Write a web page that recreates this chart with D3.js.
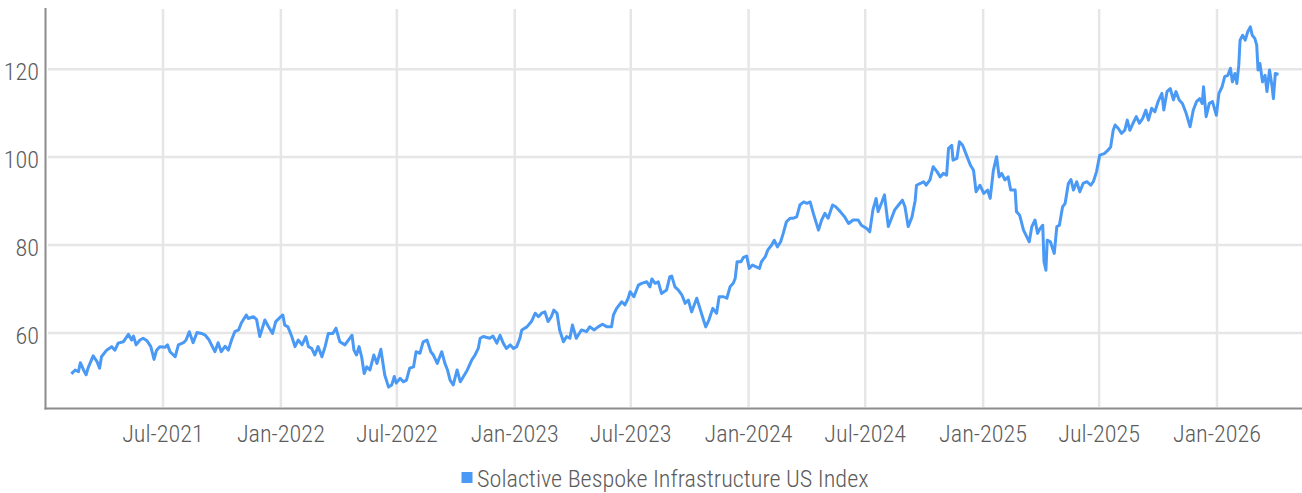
<!DOCTYPE html>
<html><head><meta charset="utf-8">
<script src="https://cdn.jsdelivr.net/npm/d3@7"></script>
<style>
html,body{margin:0;padding:0;background:#fff;}
svg{display:block;}
text{font-family:"Roboto Condensed","Liberation Sans Narrow","DejaVu Sans Condensed",sans-serif;font-weight:300;}
</style></head><body>
<svg id="chart" width="1302" height="493"></svg>
<script>
const seriesName = "Solactive Bespoke Infrastructure US Index";
const xTickDates = ["2021-07-01","2022-01-01","2022-07-01","2023-01-01","2023-07-01","2024-01-01","2024-07-01","2025-01-01","2025-07-01","2026-01-01"];
const xTickLabels = ["Jul-2021","Jan-2022","Jul-2022","Jan-2023","Jul-2023","Jan-2024","Jul-2024","Jan-2025","Jul-2025","Jan-2026"];
const yTicks = [60, 80, 100, 120];

const dates2021 = ["2021-02-08","2021-02-14","2021-02-19","2021-02-22","2021-02-27","2021-03-03","2021-03-06","2021-03-14","2021-03-20","2021-03-24","2021-03-27","2021-04-04","2021-04-12","2021-04-17","2021-04-22","2021-04-30","2021-05-08","2021-05-13","2021-05-16","2021-05-20","2021-05-26","2021-05-31","2021-06-06","2021-06-12","2021-06-17","2021-06-21","2021-06-26","2021-07-04","2021-07-08","2021-07-12","2021-07-20","2021-07-25","2021-08-02","2021-08-06","2021-08-11","2021-08-17","2021-08-23","2021-08-30","2021-09-05","2021-09-11","2021-09-20","2021-09-25","2021-09-30","2021-10-06","2021-10-11","2021-10-16","2021-10-21","2021-10-27","2021-10-31","2021-11-08","2021-11-11","2021-11-19","2021-11-24","2021-11-29","2021-12-07","2021-12-12","2021-12-19","2021-12-24","2021-12-31"];
const values2021 = [50.7,51.6,51.2,53.25,51.6,50.5,52,54.8,53.5,52,54.6,56.1,56.9,56.1,57.7,58,59.7,58.4,59.3,57.3,58.4,58.8,58.25,56.9,54,56.1,56.9,56.75,57.3,55.75,54.6,57.3,57.8,58.4,60.3,57.8,60.1,59.9,59.5,58.4,55.75,57.8,55.75,57,56.1,58.4,60.3,60.7,62.2,64.1,63.3,63.7,63.1,59.2,62.95,61.6,59.9,62.6,63.6];

const dates2022 = ["2022-01-04","2022-01-07","2022-01-12","2022-01-18","2022-01-23","2022-01-28","2022-02-03","2022-02-09","2022-02-13","2022-02-18","2022-02-23","2022-02-28","2022-03-06","2022-03-11","2022-03-16","2022-03-23","2022-03-28","2022-04-03","2022-04-11","2022-04-22","2022-04-25","2022-04-29","2022-05-03","2022-05-07","2022-05-11","2022-05-15","2022-05-20","2022-05-26","2022-05-31","2022-06-06","2022-06-12","2022-06-18","2022-06-23","2022-06-27","2022-06-30","2022-07-06","2022-07-11","2022-07-16","2022-07-21","2022-07-27","2022-07-31","2022-08-06","2022-08-11","2022-08-17","2022-08-23","2022-08-27","2022-09-02","2022-09-09","2022-09-14","2022-09-18","2022-09-22","2022-09-27","2022-10-03","2022-10-08","2022-10-13","2022-10-19","2022-10-26","2022-10-31","2022-11-05","2022-11-08","2022-11-13","2022-11-23","2022-11-28","2022-12-04","2022-12-09","2022-12-14","2022-12-19","2022-12-25","2022-12-30"];
const values2022 = [64.1,61.8,61.4,59.2,56.9,58.4,57.3,59.2,56.9,56.5,55,56.9,54.6,56.9,59.9,59.9,61.1,58,57.3,59.5,56.1,55,56.9,54.6,50.8,52.3,51.6,55,53.1,56.3,50.5,47.7,48.2,50.1,48.6,49.7,48.9,49.3,52,52.3,55.75,55.4,58,58.4,55.75,55,53.1,55.75,53.1,51.6,49.3,48.2,51.6,48.9,50.1,51.6,53.9,55,56.5,58.8,59.2,58.8,59.3,57.7,59.5,57.7,56.5,57.3,56.5];

const dates2023 = ["2023-01-04","2023-01-09","2023-01-12","2023-01-20","2023-01-27","2023-02-02","2023-02-07","2023-02-12","2023-02-17","2023-02-22","2023-02-27","2023-03-03","2023-03-08","2023-03-12","2023-03-18","2023-03-23","2023-03-28","2023-04-01","2023-04-07","2023-04-15","2023-04-23","2023-04-28","2023-05-05","2023-05-11","2023-05-18","2023-05-25","2023-06-01","2023-06-04","2023-06-09","2023-06-17","2023-06-22","2023-06-27","2023-06-30","2023-07-06","2023-07-13","2023-07-18","2023-07-26","2023-07-31","2023-08-03","2023-08-08","2023-08-13","2023-08-18","2023-08-26","2023-08-31","2023-09-03","2023-09-08","2023-09-13","2023-09-19","2023-09-24","2023-09-29","2023-10-04","2023-10-12","2023-10-17","2023-10-21","2023-10-26","2023-10-31","2023-11-06","2023-11-12","2023-11-16","2023-11-23","2023-11-28","2023-12-03","2023-12-08","2023-12-11","2023-12-14","2023-12-20","2023-12-24","2023-12-29"];
const values2023 = [56.9,58.8,60.7,61.4,62.6,64.5,63.7,64.5,64.8,62.6,63.7,65.2,64.5,60.7,58,59.2,58.8,61.8,58.8,60.7,60.3,61.4,60.7,61.4,62,61.4,61.4,64.1,65.6,67.1,66.4,67.9,69.4,68.25,70.9,71.3,71.65,70.5,72.3,71.3,71.65,69,69.8,72.8,72.95,70.5,69.8,68.6,66.75,67.5,64.8,67.9,65.6,63.7,61.4,62.95,65.6,64.5,68.25,68.25,67.9,70.5,71.3,72.4,76.2,76.2,77.2,77.5];

const dates2024 = ["2024-01-02","2024-01-07","2024-01-12","2024-01-18","2024-01-21","2024-01-27","2024-01-31","2024-02-06","2024-02-10","2024-02-15","2024-02-20","2024-02-24","2024-02-29","2024-03-06","2024-03-11","2024-03-16","2024-03-21","2024-03-27","2024-04-01","2024-04-06","2024-04-11","2024-04-19","2024-04-24","2024-04-29","2024-05-04","2024-05-11","2024-05-16","2024-05-23","2024-05-30","2024-06-05","2024-06-12","2024-06-20","2024-06-25","2024-07-03","2024-07-08","2024-07-13","2024-07-18","2024-07-21","2024-07-27","2024-07-31","2024-08-06","2024-08-11","2024-08-16","2024-08-22","2024-08-28","2024-09-01","2024-09-06","2024-09-12","2024-09-17","2024-09-19","2024-09-25","2024-09-30","2024-10-04","2024-10-10","2024-10-15","2024-10-21","2024-10-26","2024-10-31","2024-11-05","2024-11-08","2024-11-13","2024-11-15","2024-11-21","2024-11-25","2024-11-30","2024-12-06","2024-12-12","2024-12-17","2024-12-21","2024-12-27"];
const values2024 = [74.7,75.45,75.1,74.7,76.2,77.35,78.9,80,81.1,79.6,80.75,82.65,85.3,86.1,86.1,86.4,89.1,89.8,89.5,89.8,87.2,83.4,85.7,87.2,86.1,89.1,88.7,87.6,86.4,84.9,85.7,85.7,84.5,83.8,83,88,90.6,87.6,89.8,91.4,84.2,86.1,88,89.1,90.2,88.7,84.2,86.4,90.2,93.6,94,94.4,93.6,94.8,97.8,96.7,95.5,96.3,95.9,102,102.7,99.3,99.7,103.5,102.7,100.45,98.2,97,92.1,93.6];

const dates2025 = ["2025-01-02","2025-01-08","2025-01-12","2025-01-17","2025-01-22","2025-01-26","2025-01-30","2025-02-04","2025-02-09","2025-02-13","2025-02-20","2025-02-22","2025-02-27","2025-03-05","2025-03-10","2025-03-14","2025-03-18","2025-03-23","2025-03-27","2025-03-31","2025-04-04","2025-04-06","2025-04-09","2025-04-11","2025-04-16","2025-04-22","2025-04-26","2025-04-30","2025-05-05","2025-05-09","2025-05-14","2025-05-18","2025-05-22","2025-05-27","2025-06-01","2025-06-06","2025-06-12","2025-06-18","2025-06-22","2025-06-27","2025-07-02","2025-07-09","2025-07-15","2025-07-19","2025-07-23","2025-07-26","2025-07-31","2025-08-05","2025-08-10","2025-08-14","2025-08-18","2025-08-23","2025-08-28","2025-09-02","2025-09-07","2025-09-12","2025-09-16","2025-09-21","2025-09-26","2025-10-01","2025-10-07","2025-10-10","2025-10-15","2025-10-20","2025-10-25","2025-10-29","2025-11-03","2025-11-08","2025-11-14","2025-11-20","2025-11-25","2025-11-30","2025-12-05","2025-12-09","2025-12-11","2025-12-15","2025-12-20","2025-12-25","2025-12-31"];
const values2025 = [91.75,92.5,90.6,97,100.1,95.5,96.3,94.8,95.5,92.5,92.5,87.6,86.8,83.4,81.9,80.75,84.2,85.7,82.65,83.8,84.5,76.2,74.3,81.1,80.75,78.1,84.2,84.5,88.7,89.5,94,94.9,92.5,94.4,92.1,94,94.4,93.6,94.4,96.7,100.45,100.8,101.6,102.3,106.1,107.3,106.5,105.4,106.1,108.4,106.1,107.7,109.2,107.7,108.8,110.7,108.4,111.1,110.3,112.6,114.5,110.7,114.9,115.6,113,114.9,113,112.2,109.9,106.9,110.7,112.6,113.3,112.2,116,109.2,112.2,112.6,109.5];

const dates2026 = ["2026-01-04","2026-01-09","2026-01-13","2026-01-18","2026-01-22","2026-01-25","2026-01-29","2026-02-01","2026-02-04","2026-02-06","2026-02-10","2026-02-14","2026-02-18","2026-02-22","2026-02-25","2026-03-01","2026-03-04","2026-03-06","2026-03-09","2026-03-13","2026-03-17","2026-03-20","2026-03-24","2026-03-28","2026-03-30","2026-04-02","2026-04-07"];
const values2026 = [114.5,116,118.3,118.6,120.2,117.1,119,116.75,120.9,126.6,127.7,126.6,128.5,129.6,127.7,127,125.45,119.8,121.3,117.1,118.6,114.9,119.8,116,113.3,119,118.8];

const parse = d3.utcParse("%Y-%m-%d");
const allDates = [].concat(dates2021, dates2022, dates2023, dates2024, dates2025, dates2026);
const allValues = [].concat(values2021, values2022, values2023, values2024, values2025, values2026);
const data = allDates.map((d, i) => ({date: parse(d), value: allValues[i]}));

const W = 1302, H = 493;
const plot = {left: 46, right: 1302, top: 8, bottom: 408};
const lineColor = "#4a9af5";
const textColor = "#5c5c5c";
const fontSize = 24.2;

const svg = d3.select("#chart");

const x = d3.scaleUtc()
  .domain([parse(xTickDates[0]), parse(xTickDates[xTickDates.length - 1])])
  .range([163, 1217]);
const y = d3.scaleLinear().domain([42.95, 133.9]).range([plot.bottom, plot.top]);

// horizontal grid
svg.append("g").selectAll("line").data(yTicks).join("line")
  .attr("x1", plot.left + 2).attr("x2", plot.right)
  .attr("y1", d => y(d)).attr("y2", d => y(d))
  .attr("stroke", "#e6e6e6").attr("stroke-width", 2.5);

// vertical grid
svg.append("g").selectAll("line").data(xTickDates).join("line")
  .attr("x1", d => x(parse(d))).attr("x2", d => x(parse(d)))
  .attr("y1", plot.top + 1).attr("y2", plot.bottom - 1)
  .attr("stroke", "#e6e6e6").attr("stroke-width", 2.5);

// axes lines
svg.append("line").attr("x1", 45.5).attr("x2", 45.5).attr("y1", plot.top).attr("y2", plot.bottom + 1.5)
  .attr("stroke", "#8c8c8c").attr("stroke-width", 2);
svg.append("line").attr("x1", 44.5).attr("x2", plot.right).attr("y1", plot.bottom + 0.5).attr("y2", plot.bottom + 0.5)
  .attr("stroke", "#8c8c8c").attr("stroke-width", 2);

// y labels
svg.append("g").selectAll("text").data(yTicks).join("text")
  .attr("x", 39).attr("y", d => y(d) + 10.5)
  .attr("text-anchor", "end")
  .attr("font-size", fontSize).attr("fill", textColor)
  .text(d => d);

// x labels
svg.append("g").selectAll("text").data(xTickDates).join("text")
  .attr("x", d => x(parse(d))).attr("y", 441.5)
  .attr("text-anchor", "middle")
  .attr("font-size", fontSize).attr("fill", textColor)
  .text((d, i) => xTickLabels[i]);

// line
const line = d3.line().x(d => x(d.date)).y(d => y(d.value));
svg.append("path").datum(data)
  .attr("d", line).attr("fill", "none")
  .attr("stroke", lineColor).attr("stroke-width", 3)
  .attr("stroke-linejoin", "round");

// legend
const lg = svg.append("g");
lg.append("rect").attr("x", 461.5).attr("y", 472).attr("width", 11).attr("height", 11).attr("fill", lineColor);
lg.append("text").attr("x", 477).attr("y", 486.5)
  .attr("font-size", fontSize).attr("fill", textColor).text(seriesName);
</script>
</body></html>
